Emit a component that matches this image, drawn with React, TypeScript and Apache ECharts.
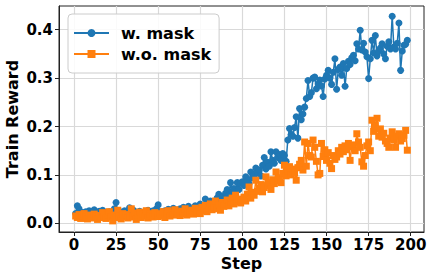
import React, { useEffect, useRef } from "react";
import * as echarts from "echarts";

const xTicks = [0, 25, 50, 75, 100, 125, 150, 175, 200];
const yTicks = [0, 0.1, 0.2, 0.3, 0.4];

// steps 1..198
const withMask = [
  0.020, 0.036, 0.030, 0.018, 0.022, 0.015, 0.024, 0.019, 0.026, 0.017,
  0.021, 0.028, 0.014, 0.019, 0.025, 0.020, 0.027, 0.016, 0.022, 0.018,
  0.024, 0.020, 0.015, 0.030, 0.043, 0.021, 0.017, 0.023, 0.019, 0.026,
  0.018, 0.022, 0.032, 0.020, 0.028, 0.016, 0.023, 0.019, 0.025, 0.021,
  0.017, 0.024, 0.020, 0.027, 0.018, 0.022, 0.026, 0.019, 0.030, 0.038,
  0.021, 0.024, 0.018, 0.026, 0.022, 0.029, 0.020, 0.025, 0.031, 0.023,
  0.027, 0.021, 0.030, 0.025, 0.033, 0.024, 0.028, 0.035, 0.026, 0.031,
  0.029, 0.036, 0.027, 0.033, 0.040, 0.030, 0.035, 0.050, 0.038, 0.042,
  0.046, 0.037, 0.044, 0.040, 0.052, 0.060, 0.048, 0.055, 0.047, 0.062,
  0.070, 0.058, 0.084, 0.066, 0.072, 0.064, 0.084, 0.070, 0.083, 0.086,
  0.078, 0.096, 0.088, 0.082, 0.106, 0.094, 0.100, 0.114, 0.104, 0.110,
  0.098, 0.120, 0.136, 0.112, 0.126, 0.118, 0.148, 0.130, 0.124, 0.148,
  0.136, 0.142, 0.130, 0.144, 0.140, 0.128, 0.172, 0.196, 0.184, 0.180,
  0.198, 0.220, 0.176, 0.237, 0.214, 0.226, 0.240, 0.258, 0.295, 0.262,
  0.270, 0.300, 0.302, 0.278, 0.288, 0.296, 0.284, 0.262, 0.298, 0.306,
  0.316, 0.300, 0.287, 0.312, 0.340, 0.277, 0.318, 0.323, 0.306, 0.330,
  0.283, 0.320, 0.335, 0.328, 0.342, 0.347, 0.336, 0.371, 0.360, 0.399,
  0.358, 0.372, 0.354, 0.344, 0.299, 0.340, 0.378, 0.352, 0.388, 0.346,
  0.356, 0.362, 0.371, 0.350, 0.340, 0.366, 0.375, 0.360, 0.428, 0.364,
  0.360, 0.372, 0.414, 0.316, 0.356, 0.368, 0.370, 0.378,
];

const withoutMask = [
  0.015, 0.012, 0.018, 0.010, 0.016, 0.020, 0.013, 0.009, 0.017, 0.014,
  0.011, 0.019, 0.015, 0.008, 0.016, 0.012, 0.022, 0.014, 0.010, 0.018,
  0.024, 0.013, 0.005, 0.017, 0.012, 0.027, 0.015, 0.009, 0.020, 0.014,
  0.018, 0.011, 0.016, 0.030, 0.013, 0.021, 0.008, 0.017, 0.023, 0.012,
  0.019, 0.015, 0.026, 0.011, 0.020, 0.016, 0.013, 0.022, 0.018, 0.014,
  0.020, 0.016, 0.024, 0.012, 0.019, 0.026, 0.015, 0.021, 0.017, 0.028,
  0.018, 0.022, 0.016, 0.025, 0.020, 0.030, 0.017, 0.024, 0.021, 0.027,
  0.019, 0.031, 0.023, 0.028, 0.020, 0.033, 0.026, 0.037, 0.024, 0.031,
  0.040, 0.028, 0.034, 0.046, 0.030, 0.038, 0.027, 0.043, 0.035, 0.040,
  0.048, 0.036, 0.044, 0.052, 0.040, 0.058, 0.045, 0.050, 0.042, 0.048,
  0.054, 0.046, 0.060, 0.075, 0.052, 0.064, 0.058, 0.089, 0.066, 0.072,
  0.080, 0.065, 0.074, 0.096, 0.078, 0.084, 0.070, 0.090, 0.082, 0.106,
  0.088, 0.094, 0.084, 0.103, 0.120, 0.098, 0.108, 0.117, 0.100, 0.112,
  0.104, 0.089, 0.115, 0.122, 0.130, 0.110, 0.168, 0.118, 0.165, 0.140,
  0.137, 0.172, 0.157, 0.128, 0.100, 0.103, 0.165, 0.138, 0.152, 0.130,
  0.146, 0.124, 0.113, 0.140, 0.132, 0.137, 0.150, 0.143, 0.157, 0.148,
  0.160, 0.152, 0.165, 0.130, 0.158, 0.162, 0.150, 0.185, 0.168, 0.157,
  0.127, 0.118, 0.140, 0.160, 0.168, 0.150, 0.213, 0.190, 0.202, 0.217,
  0.180, 0.195, 0.178, 0.186, 0.170, 0.165, 0.157, 0.176, 0.189, 0.172,
  0.157, 0.180, 0.185, 0.170, 0.175, 0.182, 0.192, 0.151,
];

const FONT = "DejaVu Sans";

export default function App() {
  const ref = useRef<HTMLDivElement>(null);
  useEffect(() => {
    if (!ref.current) return;
    const chart = echarts.init(ref.current, undefined, { renderer: "svg" });
    const toPairs = (arr: number[]) => arr.map((v, i) => [i + 1, v]);
    chart.setOption({
      animation: false,
      backgroundColor: "#ffffff",
      grid: {
        left: 59,
        right: 10,
        top: 6,
        bottom: 47,
        containLabel: false,
        outerBoundsMode: "none",
        show: true,
        borderColor: "#222",
        borderWidth: 1,
        backgroundColor: "transparent",
      },
      legend: {
        orient: "vertical",
        left: 68,
        top: 14,
        padding: [11, 8, 11, 5],
        itemWidth: 35,
        itemHeight: 10,
        itemGap: 5,
        backgroundColor: "rgba(255,255,255,0.85)",
        borderColor: "#cccccc",
        borderWidth: 1,
        borderRadius: 4,
        textStyle: {
          fontFamily: FONT,
          fontWeight: "bold",
          fontSize: 16,
          color: "#000",
          padding: [0, 0, 0, 7],
        },
        data: ["w. mask", "w.o. mask"],
      },
      xAxis: {
        type: "value",
        min: -8.9,
        max: 207.9,
        name: "Step",
        nameLocation: "middle",
        nameGap: 23,
        nameMoveOverlap: false,
        nameTextStyle: { fontFamily: FONT, fontWeight: "bold", fontSize: 16, color: "#000" },
        axisLine: { show: true, onZero: false, lineStyle: { color: "#222", width: 1 } },
        axisTick: { show: true, length: 4, customValues: xTicks, lineStyle: { color: "#222" } },
        axisLabel: {
          customValues: xTicks,
          margin: 5,
          fontFamily: FONT,
          fontWeight: "bold",
          fontSize: 15,
          color: "#000",
        },
        splitLine: { show: true, lineStyle: { color: "#d9d9d9", width: 1.2 } },
      },
      yAxis: {
        type: "value",
        min: -0.018,
        max: 0.449,
        name: "Train Reward",
        nameLocation: "middle",
        nameGap: 39,
        nameMoveOverlap: false,
        nameTextStyle: { fontFamily: FONT, fontWeight: "bold", fontSize: 16, color: "#000" },
        axisLine: { show: true, onZero: false, lineStyle: { color: "#222", width: 1 } },
        axisTick: { show: true, length: 4, customValues: yTicks, lineStyle: { color: "#222" } },
        axisLabel: {
          customValues: yTicks,
          margin: 6,
          fontFamily: FONT,
          fontWeight: "bold",
          fontSize: 15,
          color: "#000",
          formatter: (v: number) => v.toFixed(1),
        },
        splitLine: { show: true, lineStyle: { color: "#d9d9d9", width: 1.2 } },
      },
      series: [
        {
          name: "w. mask",
          type: "line",
          data: toPairs(withMask),
          symbol: "circle",
          symbolSize: 7,
          showAllSymbol: true,
          itemStyle: { color: "#1f77b4" },
          lineStyle: { color: "#1f77b4", width: 1.5 },
        },
        {
          name: "w.o. mask",
          type: "line",
          data: toPairs(withoutMask),
          symbol: "rect",
          symbolSize: 7,
          showAllSymbol: true,
          itemStyle: { color: "#ff7f0e" },
          lineStyle: { color: "#ff7f0e", width: 1.5 },
        },
      ],
    });
    return () => chart.dispose();
  }, []);
  return (
    <div
      ref={ref}
      style={{ position: "fixed", left: 0, top: 0, width: 434, height: 279 }}
    />
  );
}
